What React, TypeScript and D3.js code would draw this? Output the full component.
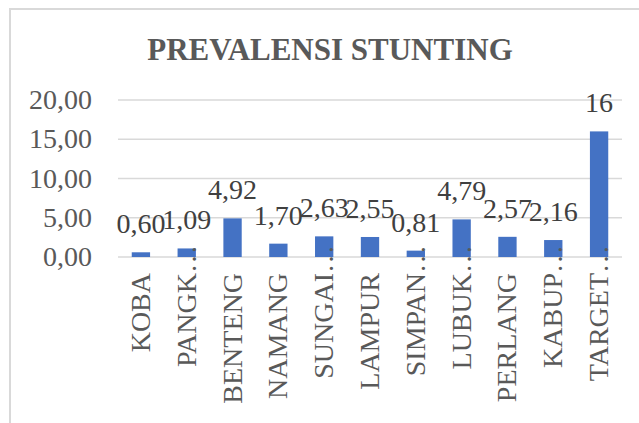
import React from "react";
import * as d3 from "d3";

const categories = ["KOBA", "PANGK…", "BENTENG", "NAMANG", "SUNGAI…", "LAMPUR", "SIMPAN…", "LUBUK…", "PERLANG", "KABUP…", "TARGET…"];
const values = [0.6, 1.09, 4.92, 1.7, 2.63, 2.55, 0.81, 4.79, 2.57, 2.16, 16];
const valueLabels = ["0,60", "1,09", "4,92", "1,70", "2,63", "2,55", "0,81", "4,79", "2,57", "2,16", "16"];
const yTicks = [0, 5, 10, 15, 20];
const title = "PREVALENSI STUNTING";

const W = 639;
const H = 423;
const FONT = "'Liberation Serif', 'Times New Roman', serif";

export default function App() {
  const x = d3.scaleBand<string>().domain(categories).range([118, 622]).padding(0);
  const y = d3.scaleLinear().domain([0, 20]).range([257, 100]);
  const bw = x.bandwidth();
  const barW = bw * 0.4;
  const fmt = (v: number) => d3.format(".2f")(v).replace(".", ",");

  return (
    <svg width={W} height={H} style={{ position: "absolute", left: 0, top: 0, background: "#fff" }}>
      <rect x={10} y={9} width={W + 10} height={H + 10} fill="#fff" stroke="#d9d9d9" strokeWidth={2} />
      <text x={330} y={60} textAnchor="middle" fontFamily={FONT} fontWeight="bold" fontSize={31} fill="#595959">
        {title}
      </text>
      {yTicks.map((t) => (
        <g key={t}>
          <line x1={118} x2={622} y1={y(t)} y2={y(t)} stroke="#d9d9d9" strokeWidth={1.5} />
          <text x={92} y={y(t) + 9} textAnchor="end" fontFamily={FONT} fontSize={28} fill="#595959">
            {fmt(t)}
          </text>
        </g>
      ))}
      {categories.map((c, i) => (
        <rect key={c} x={(x(c) as number) + (bw - barW) / 2} y={y(values[i])} width={barW} height={y(0) - y(values[i])} fill="#4472C4" />
      ))}
      {categories.map((c, i) => (
        <text key={"v" + c} x={(x(c) as number) + bw / 2} y={y(values[i]) - 19} textAnchor="middle" fontFamily={FONT} fontSize={28} fill="#404040">
          {valueLabels[i]}
        </text>
      ))}
      {categories.map((c) => {
        const cx = (x(c) as number) + bw / 2;
        const trunc = c.endsWith("…");
        const yEnd = trunc ? 245 : 273;
        return (
          <text key={"c" + c} transform={`translate(${cx + 9},${yEnd}) rotate(-90)`} textAnchor="end" fontFamily={FONT} fontSize={28} fill="#595959">
            {c}
          </text>
        );
      })}
    </svg>
  );
}
